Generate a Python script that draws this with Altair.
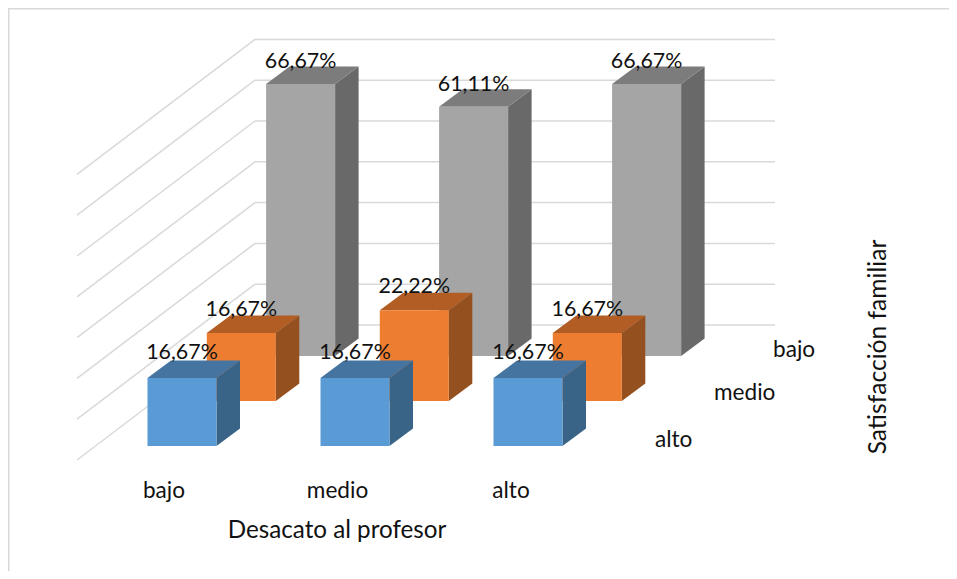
import altair as alt
import pandas as pd

# ---- values ----
categories = ["bajo", "medio", "alto"]
series = ["alto", "medio", "bajo"]          # front to back
values_alto = [16.67, 16.67, 16.67]
values_medio = [16.67, 22.22, 16.67]
values_bajo = [66.67, 61.11, 66.67]
all_values = [values_alto, values_medio, values_bajo]
ticks = [0, 10, 20, 30, 40, 50, 60, 70]

front_col = ["#5B9BD5", "#ED7D31", "#A5A5A5"]
top_col = ["#44749F", "#B15D24", "#7C7C7C"]
side_col = ["#3A6487", "#95501F", "#696969"]

GRID = "#D9D9D9"
FONT = "Lato"
TEXT = "#111111"

# ---- projection (page pixels) ----
W, H = 941, 563
OX, OY = 147.5, 446.0     # front-left-bottom corner of first bar
CAT = 173.0               # category step
SX, SY = 59.3, 45.0       # series step
BW = 69.0                 # bar width
DX, DY = 23.5, 17.5       # bar depth
PCT = 4.08                # pixels per percentage point
BX, BY = 255.0, 325.0     # back wall corner
FX, FY = 77.0, 460.0      # front end of the side wall
RX = 775.0                # right end of back wall
LABEL_GAP = [18.5, 17.0, 16.0]  # label baseline above bar top, per series


def px(c, s=0.0, extra=0.0):
    return OX + c * CAT + s * SX + extra


def py(s=0.0, pct=0.0, extra=0.0):
    return OY - s * SY - pct * PCT - extra


# page pixel -> chart pixel
xs = alt.Scale(domain=[8, 8 + W], range=[0, W], nice=False, zero=False, padding=0)
ys = alt.Scale(domain=[8, 8 + H], range=[0, H], nice=False, zero=False, padding=0)
X = lambda f="x": alt.X(f"{f}:Q", scale=xs, axis=None, stack=None)
Y = lambda f="y": alt.Y(f"{f}:Q", scale=ys, axis=None, stack=None)
X2 = lambda f="x2": alt.X2(f"{f}:Q")
Y2 = lambda f="y2": alt.Y2(f"{f}:Q")

layers = []

# outer frame
frame = pd.DataFrame({"x": [8.0, 8.0], "y": [8.0, 8.0], "x2": [8.0, 949.0], "y2": [571.0, 8.0]})
layers.append(alt.Chart(frame).mark_rule(color=GRID, strokeWidth=3).encode(x=X(), y=Y(), x2=X2(), y2=Y2()))

# walls
back = pd.DataFrame({"x": [BX] * len(ticks), "x2": [RX] * len(ticks), "y": [BY - t * PCT for t in ticks]})
side = pd.DataFrame({"x": [FX] * len(ticks), "x2": [BX] * len(ticks),
                     "y": [FY - t * PCT for t in ticks], "y2": [BY - t * PCT for t in ticks]})
layers.append(alt.Chart(back).mark_rule(color=GRID, strokeWidth=1.5).encode(x=X(), x2=X2(), y=Y()))
layers.append(alt.Chart(side).mark_rule(color=GRID, strokeWidth=1.5).encode(x=X(), x2=X2(), y=Y(), y2=Y2()))

# bars, back series first
for s in [2, 1, 0]:
    vals = all_values[s]
    side_rows, top_rows, front_rows = [], [], []
    for c, v in enumerate(vals):
        x0 = px(c, s)
        x1 = x0 + BW
        y0 = py(s)
        yt = py(s, v)
        front_rows.append({"x": x0, "x2": x1, "y": yt, "y2": y0})
        side_rows += [{"c": c, "x": x1, "y": yt, "y2": y0},
                      {"c": c, "x": x1 + DX, "y": yt - DY, "y2": y0 - DY}]
        top_rows += [{"c": c, "y": yt - DY, "x": x0 + DX, "x2": x1 + DX},
                     {"c": c, "y": yt, "x": x0, "x2": x1}]
    layers.append(alt.Chart(pd.DataFrame(side_rows)).mark_area(color=side_col[s], orient="vertical").encode(
        x=X(), y=Y(), y2=Y2(), detail="c:N"))
    layers.append(alt.Chart(pd.DataFrame(top_rows)).mark_area(color=top_col[s], orient="horizontal").encode(
        y=Y(), x=X(), x2=X2(), detail="c:N"))
    layers.append(alt.Chart(pd.DataFrame(front_rows)).mark_rect(color=front_col[s]).encode(
        x=X(), x2=X2(), y=Y(), y2=Y2()))

# data labels
lab_rows = []
for s in range(3):
    for c, v in enumerate(all_values[s]):
        lab_rows.append({"x": px(c, s) + BW / 2, "y": py(s, v) - LABEL_GAP[s],
                         "t": f"{v:.2f}".replace(".", ",") + "%"})
layers.append(alt.Chart(pd.DataFrame(lab_rows)).mark_text(
    font=FONT, fontSize=21.4, color=TEXT, align="center", baseline="alphabetic").encode(
    x=X(), y=Y(), text="t:N"))

# category labels
cat_df = pd.DataFrame({"x": [164, 337.5, 511], "y": [498, 498, 498], "t": categories})
layers.append(alt.Chart(cat_df).mark_text(
    font=FONT, fontSize=22.6, color=TEXT, align="center", baseline="alphabetic").encode(
    x=X(), y=Y(), text="t:N"))

# series labels (depth axis)
ser_df = pd.DataFrame({"x": [655, 714, 773], "y": [447, 400, 357], "t": series})
layers.append(alt.Chart(ser_df).mark_text(
    font=FONT, fontSize=22.6, color=TEXT, align="left", baseline="alphabetic").encode(
    x=X(), y=Y(), text="t:N"))

# axis titles
t1 = pd.DataFrame({"x": [337], "y": [538], "t": ["Desacato al profesor"]})
layers.append(alt.Chart(t1).mark_text(
    font=FONT, fontSize=24.2, color=TEXT, align="center", baseline="alphabetic").encode(
    x=X(), y=Y(), text="t:N"))
t2 = pd.DataFrame({"x": [886], "y": [347], "t": ["Satisfacción familiar"]})
layers.append(alt.Chart(t2).mark_text(
    font=FONT, fontSize=24.6, color=TEXT, align="center", baseline="alphabetic", angle=270).encode(
    x=X(), y=Y(), text="t:N"))

chart = alt.layer(*layers).properties(
    width=W, height=H, padding=0, autosize=alt.AutoSizeParams(type="none"),
    background="white",
).configure_view(stroke=None)

chart.save("out.html", embed_options={"renderer": "svg", "actions": False})
